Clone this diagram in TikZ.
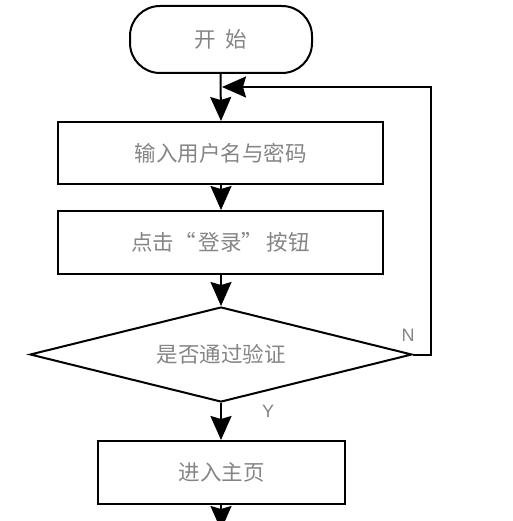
\documentclass[tikz,border=0pt]{standalone}
\usepackage{fontspec}
\setmainfont{Noto Sans CJK SC}
\newfontfamily\latinfont{Liberation Sans}
\usetikzlibrary{shapes.geometric,arrows.meta}
\definecolor{txtgray}{HTML}{858585}
\begin{document}
\begin{tikzpicture}[x=1pt,y=-1pt,
  every node/.style={font=\fontsize{21.5pt}{24pt}\selectfont,text=txtgray},
  stepbox/.style={draw=black,line width=2pt,rectangle,inner sep=0pt},
  termbox/.style={draw=black,line width=2pt,rectangle,rounded corners=30pt,inner sep=0pt},
  decbox/.style={draw=black,line width=2pt,diamond,aspect=4,inner sep=0pt},
  arr/.style={line width=2pt,-{Stealth[length=24pt,width=21pt,inset=3pt]}},
  lbl/.style={font=\latinfont\fontsize{18pt}{20pt}\selectfont,text=txtgray,inner sep=0pt}]
\useasboundingbox[fill=white] (0,0) rectangle (512,521);
\node[termbox,minimum width=182pt,minimum height=67pt] (start) at (221,39.5) {开\hspace{0.45em}始};
\node[stepbox,minimum width=325pt,minimum height=62pt] (input) at (220.5,153) {输入用户名与密码};
\node[stepbox,minimum width=325pt,minimum height=63pt] (click) at (220.5,242.5) {点击“\hspace{0.15em}登录”\hspace{0.15em}按钮};
\node[decbox,minimum width=382pt,minimum height=95pt] (check) at (221,354.5) {是否通过验证};
\node[stepbox,minimum width=247pt,minimum height=63pt] (home) at (221.5,472.5) {进入主页};
\coordinate (join) at (222,87);
\coordinate (corner) at (431,354.5);
\coordinate (out) at (221,530);
\node[lbl] (nlab) at (408,335) {N};
\node[lbl] (ylab) at (268,411) {Y};
\draw[arr] (start.south -| input.north) -- (input.north -| start.south);
\draw[arr] (input.south -| check.north) -- (click.north -| check.north);
\draw[arr] (click.south -| check.north) -- (check.north);
\draw[arr] (check.south) -- (home.north -| check.south);
\draw[arr] (check.east) -- (corner) |- (join);
\draw[arr] (home.south -| check.south) -- (out);
\end{tikzpicture}
\end{document}
